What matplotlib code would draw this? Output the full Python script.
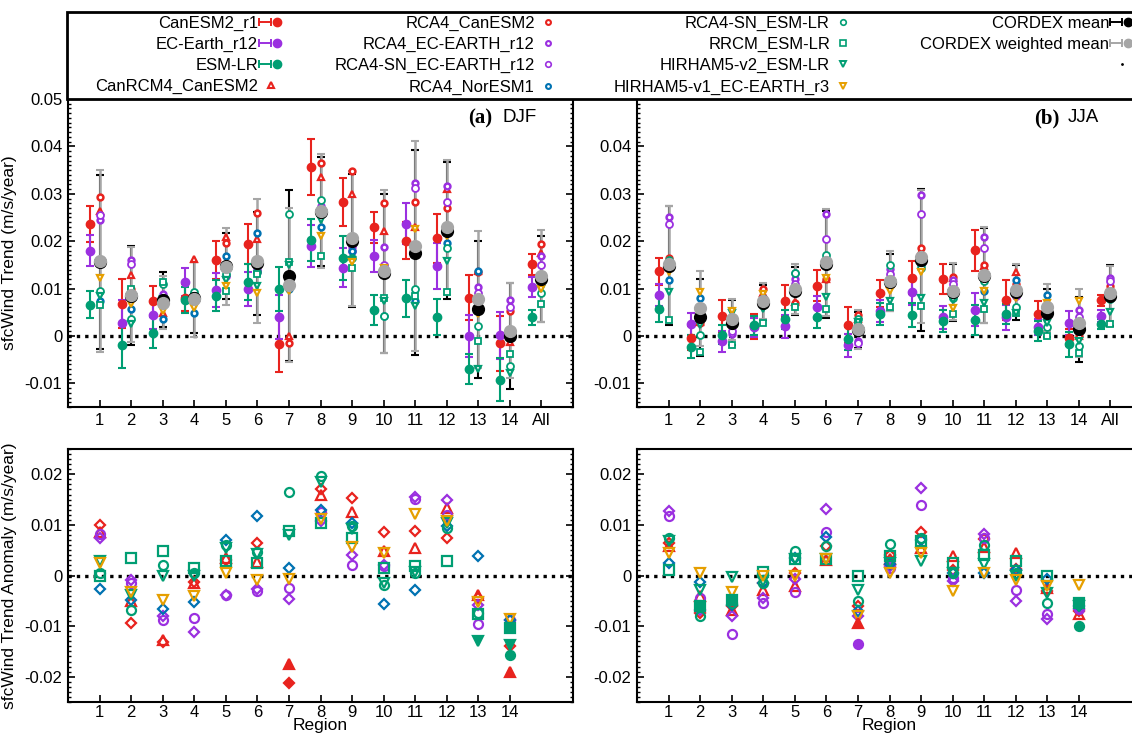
import numpy as np
import matplotlib
matplotlib.use('Agg')
import matplotlib.pyplot as plt
from matplotlib.lines import Line2D
from matplotlib.patches import Rectangle
from matplotlib.legend_handler import HandlerLine2D, HandlerTuple
from matplotlib.ticker import MultipleLocator, FuncFormatter

plt.rcParams['font.family'] = ['Liberation Sans', 'DejaVu Sans']

# ---------------- data ----------------
regions_top = ['1', '2', '3', '4', '5', '6', '7', '8', '9', '10', '11', '12', '13', '14', 'All']
regions_bottom = ['1', '2', '3', '4', '5', '6', '7', '8', '9', '10', '11', '12', '13', '14']

gcm_names = ['CanESM2_r1', 'EC-Earth_r12', 'ESM-LR']
rcm_names = ['CanRCM4_CanESM2', 'RCA4_CanESM2', 'RCA4_EC-EARTH_r12', 'RCA4-SN_EC-EARTH_r12',
             'RCA4_NorESM1', 'RCA4-SN_ESM-LR', 'RRCM_ESM-LR', 'HIRHAM5-v2_ESM-LR',
             'HIRHAM5-v1_EC-EARTH_r3']

# DJF trends (m/s/year)
djf_canesm2 = [0.0237, 0.0068, 0.0073, 0.0081, 0.0160, 0.0194, -0.0018, 0.0357, 0.0283, 0.0229, 0.0201, 0.0206, 0.0081, -0.0015, 0.0151]
djf_canesm2_err = [0.0038, 0.0052, 0.0032, 0.0028, 0.0040, 0.0043, 0.0058, 0.0059, 0.0050, 0.0033, 0.0039, 0.0052, 0.0047, 0.0058, 0.0022]
djf_ecearth = [0.0180, 0.0028, 0.0044, 0.0114, 0.0096, 0.0099, 0.0040, 0.0190, 0.0144, 0.0168, 0.0237, 0.0148, 0.0000, 0.0001, 0.0104]
djf_ecearth_err = [0.0032, 0.0048, 0.0029, 0.0029, 0.0036, 0.0036, 0.0047, 0.0045, 0.0041, 0.0034, 0.0043, 0.0048, 0.0044, 0.0050, 0.0021]
djf_esmlr = [0.0066, -0.0020, 0.0007, 0.0076, 0.0085, 0.0114, 0.0099, 0.0203, 0.0165, 0.0055, 0.0079, 0.0040, -0.0070, -0.0092, 0.0039]
djf_esmlr_err = [0.0028, 0.0048, 0.0032, 0.0027, 0.0033, 0.0038, 0.0046, 0.0044, 0.0046, 0.0032, 0.0040, 0.0037, 0.0032, 0.0046, 0.0016]

djf_canrcm4 = [0.0263, 0.0128, 0.0048, 0.0163, 0.0208, 0.0204, 0.0000, 0.0335, 0.0299, 0.0222, 0.0229, 0.0310, 0.0137, -0.0013, 0.0176]
djf_rca4_canesm2 = [0.0294, 0.0099, 0.0065, 0.0080, 0.0197, 0.0259, -0.0015, 0.0365, 0.0349, 0.0280, 0.0283, 0.0269, 0.0135, 0.0053, 0.0195]
djf_rca4_ecearth = [0.0245, 0.0160, 0.0088, 0.0088, 0.0141, 0.0135, 0.0110, 0.0275, 0.0187, 0.0187, 0.0323, 0.0317, 0.0104, 0.0076, 0.0169]
djf_rca4sn_ecearth = [0.0255, 0.0151, 0.0080, 0.0075, 0.0127, 0.0140, 0.0110, 0.0270, 0.0180, 0.0150, 0.0313, 0.0283, 0.0090, 0.0060, 0.0150]
djf_rca4_noresm = [0.0074, 0.0056, 0.0035, 0.0048, 0.0169, 0.0217, 0.0100, 0.0229, 0.0180, 0.0042, 0.0074, 0.0197, 0.0137, 0.0000, 0.0120]
djf_rca4sn_esmlr = [0.0095, 0.0035, 0.0110, 0.0092, 0.0130, 0.0135, 0.0257, 0.0287, 0.0165, 0.0042, 0.0100, 0.0185, 0.0020, -0.0063, 0.0090]
djf_rrcm = [0.0065, 0.0099, 0.0114, 0.0085, 0.0095, 0.0130, 0.0155, 0.0169, 0.0144, 0.0079, 0.0085, 0.0093, -0.0011, -0.0039, 0.0067]
djf_hirham_v2 = [0.0085, 0.0025, 0.0077, 0.0080, 0.0118, 0.0106, 0.0150, 0.0245, 0.0160, 0.0074, 0.0063, 0.0158, -0.0070, -0.0079, 0.0100]
djf_hirham_v1 = [0.0123, 0.0067, 0.0053, 0.0058, 0.0106, 0.0090, 0.0095, 0.0211, 0.0157, 0.0144, 0.0225, 0.0211, 0.0046, 0.0000, 0.0100]

djf_mean = [0.0156, 0.0085, 0.0076, 0.0081, 0.0148, 0.0153, 0.0127, 0.0262, 0.0201, 0.0132, 0.0176, 0.0222, 0.0056, -0.0001, 0.0120]
djf_mean_err = [0.0183, 0.0105, 0.0058, 0.0075, 0.0070, 0.0108, 0.0180, 0.0115, 0.0140, 0.0167, 0.0216, 0.0144, 0.0145, 0.0112, 0.0091]
djf_wmean = [0.0158, 0.0087, 0.0070, 0.0077, 0.0146, 0.0158, 0.0107, 0.0264, 0.0206, 0.0137, 0.0190, 0.0229, 0.0077, 0.0011, 0.0127]
djf_wmean_err = [0.0192, 0.0100, 0.0056, 0.0080, 0.0081, 0.0130, 0.0162, 0.0120, 0.0142, 0.0172, 0.0221, 0.0143, 0.0145, 0.0100, 0.0097]

# JJA trends (m/s/year)
jja_canesm2 = [0.0136, -0.0004, 0.0042, 0.0020, 0.0073, 0.0106, 0.0023, 0.0090, 0.0123, 0.0120, 0.0181, 0.0076, 0.0046, -0.0004, 0.0075]
jja_canesm2_err = [0.0028, 0.0025, 0.0033, 0.0026, 0.0034, 0.0033, 0.0037, 0.0028, 0.0035, 0.0031, 0.0043, 0.0042, 0.0027, 0.0018, 0.0012]
jja_ecearth = [0.0086, 0.0025, -0.0011, 0.0018, 0.0020, 0.0060, -0.0020, 0.0053, 0.0093, 0.0039, 0.0055, 0.0039, 0.0018, 0.0028, 0.0042]
jja_ecearth_err = [0.0023, 0.0023, 0.0022, 0.0020, 0.0025, 0.0025, 0.0024, 0.0023, 0.0027, 0.0025, 0.0035, 0.0027, 0.0017, 0.0025, 0.0013]
jja_esmlr = [0.0056, -0.0023, 0.0002, 0.0023, 0.0035, 0.0040, -0.0006, 0.0046, 0.0044, 0.0032, 0.0034, 0.0046, 0.0011, -0.0018, 0.0025]
jja_esmlr_err = [0.0026, 0.0024, 0.0020, 0.0020, 0.0020, 0.0023, 0.0024, 0.0023, 0.0026, 0.0023, 0.0031, 0.0021, 0.0021, 0.0027, 0.0011]

jja_canrcm4 = [0.0160, 0.0030, 0.0035, 0.0090, 0.0071, 0.0121, 0.0035, 0.0110, 0.0180, 0.0123, 0.0148, 0.0134, 0.0060, -0.0001, 0.0102]
jja_rca4_canesm2 = [0.0165, 0.0028, 0.0030, 0.0099, 0.0070, 0.0121, 0.0044, 0.0120, 0.0185, 0.0125, 0.0150, 0.0110, 0.0065, 0.0000, 0.0105]
jja_rca4_ecearth = [0.0252, 0.0060, 0.0004, 0.0075, 0.0121, 0.0258, -0.0011, 0.0141, 0.0297, 0.0118, 0.0208, 0.0090, 0.0050, 0.0055, 0.0123]
jja_rca4sn_ecearth = [0.0236, 0.0050, 0.0010, 0.0070, 0.0110, 0.0204, -0.0015, 0.0130, 0.0258, 0.0110, 0.0185, 0.0085, 0.0045, 0.0040, 0.0115]
jja_rca4_noresm = [0.0117, 0.0081, 0.0030, 0.0080, 0.0132, 0.0165, 0.0020, 0.0120, 0.0150, 0.0090, 0.0095, 0.0118, 0.0086, 0.0020, 0.0090]
jja_rca4sn_esmlr = [0.0160, 0.0001, 0.0030, 0.0065, 0.0132, 0.0171, 0.0035, 0.0149, 0.0143, 0.0080, 0.0116, 0.0060, 0.0018, -0.0021, 0.0077]
jja_rrcm = [0.0033, -0.0033, -0.0020, 0.0028, 0.0060, 0.0056, 0.0025, 0.0060, 0.0063, 0.0046, 0.0056, 0.0049, 0.0000, -0.0035, 0.0025]
jja_hirham_v2 = [0.0092, 0.0023, 0.0049, 0.0056, 0.0088, 0.0083, 0.0030, 0.0074, 0.0080, 0.0075, 0.0070, 0.0049, 0.0028, -0.0010, 0.0051]
jja_hirham_v1 = [0.0135, 0.0093, 0.0053, 0.0088, 0.0095, 0.0123, 0.0010, 0.0095, 0.0134, 0.0058, 0.0095, 0.0079, 0.0070, 0.0073, 0.0090]

jja_mean = [0.0148, 0.0039, 0.0028, 0.0070, 0.0095, 0.0151, 0.0013, 0.0113, 0.0161, 0.0092, 0.0127, 0.0092, 0.0048, 0.0014, 0.0085]
jja_mean_err = [0.0126, 0.0082, 0.0047, 0.0037, 0.0050, 0.0113, 0.0038, 0.0060, 0.0150, 0.0060, 0.0100, 0.0058, 0.0050, 0.0068, 0.0065]
jja_wmean = [0.0151, 0.0058, 0.0035, 0.0074, 0.0099, 0.0155, 0.0014, 0.0116, 0.0167, 0.0094, 0.0129, 0.0096, 0.0060, 0.0028, 0.0090]
jja_wmean_err = [0.0124, 0.0080, 0.0043, 0.0038, 0.0052, 0.0112, 0.0041, 0.0064, 0.0140, 0.0060, 0.0101, 0.0055, 0.0050, 0.0072, 0.0058]

# DJF trend anomalies (m/s/year)
djf_anom_canrcm4 = [0.0085, -0.0051, -0.0127, -0.0015, 0.0035, 0.0026, -0.0175, 0.0159, 0.0125, 0.0048, 0.0055, 0.0134, -0.0038, -0.0191]
djf_anom_rca4_canesm2 = [0.0099, -0.0094, -0.0132, -0.0012, 0.0030, 0.0065, -0.0212, 0.0171, 0.0154, 0.0085, 0.0088, 0.0075, -0.0045, -0.0140]
djf_anom_rca4_ecearth = [0.0075, -0.0008, -0.0081, -0.0111, -0.0038, -0.0026, -0.0046, 0.0108, 0.0040, 0.0021, 0.0156, 0.0150, -0.0058, -0.0088]
djf_anom_rca4sn_ecearth = [0.0083, -0.0015, -0.0087, -0.0084, -0.0038, -0.0030, -0.0025, 0.0125, 0.0020, 0.0018, 0.0151, 0.0119, -0.0095, -0.0087]
djf_anom_rca4_noresm = [-0.0026, -0.0048, -0.0066, -0.0053, 0.0070, 0.0118, 0.0015, 0.0130, 0.0103, -0.0056, -0.0029, 0.0098, 0.0038, -0.0087]
djf_anom_rca4sn_esmlr = [0.0004, -0.0068, 0.0021, 0.0005, 0.0060, 0.0046, 0.0166, 0.0197, 0.0098, -0.0018, 0.0004, 0.0093, -0.0075, -0.0157]
djf_anom_rrcm = [-0.0001, 0.0035, 0.0048, 0.0014, 0.0028, 0.0024, 0.0088, 0.0103, 0.0075, 0.0014, 0.0019, 0.0028, -0.0077, -0.0103]
djf_anom_hirham_v2 = [0.0028, -0.0038, 0.0000, -0.0001, 0.0055, 0.0042, 0.0081, 0.0185, 0.0091, -0.0015, 0.0007, 0.0103, -0.0130, -0.0138]
djf_anom_hirham_v1 = [0.0025, -0.0033, -0.0048, -0.0041, 0.0005, -0.0009, -0.0007, 0.0111, 0.0057, 0.0045, 0.0121, 0.0108, -0.0053, -0.0086]

# JJA trend anomalies (m/s/year)
jja_anom_canrcm4 = [0.0058, -0.0040, -0.0068, -0.0028, -0.0021, 0.0030, -0.0093, 0.0033, 0.0055, 0.0038, 0.0057, 0.0044, -0.0025, -0.0076]
jja_anom_rca4_canesm2 = [0.0064, -0.0074, -0.0060, -0.0015, 0.0004, 0.0058, -0.0060, 0.0040, 0.0085, 0.0010, 0.0072, 0.0012, -0.0030, -0.0070]
jja_anom_rca4_ecearth = [0.0128, -0.0068, -0.0081, -0.0044, -0.0007, 0.0132, -0.0080, 0.0019, 0.0172, -0.0011, 0.0083, -0.0051, -0.0085, -0.0066]
jja_anom_rca4sn_ecearth = [0.0117, -0.0045, -0.0116, -0.0054, -0.0032, 0.0085, -0.0135, 0.0015, 0.0140, -0.0005, 0.0075, -0.0029, -0.0077, -0.0066]
jja_anom_rca4_noresm = [0.0024, -0.0013, -0.0058, -0.0015, 0.0035, 0.0077, -0.0070, 0.0022, 0.0070, 0.0005, 0.0004, 0.0010, -0.0007, -0.0060]
jja_anom_rca4sn_esmlr = [0.0075, -0.0081, -0.0055, -0.0015, 0.0048, 0.0058, -0.0050, 0.0062, 0.0075, 0.0005, 0.0060, 0.0004, -0.0055, -0.0099]
jja_anom_rrcm = [0.0010, -0.0060, -0.0048, 0.0007, 0.0032, 0.0033, 0.0000, 0.0038, 0.0068, 0.0024, 0.0040, 0.0028, -0.0001, -0.0054]
jja_anom_hirham_v2 = [0.0068, -0.0029, -0.0003, -0.0010, 0.0032, 0.0033, -0.0028, 0.0025, 0.0028, 0.0005, 0.0022, 0.0000, -0.0034, -0.0060]
jja_anom_hirham_v1 = [0.0044, 0.0004, -0.0032, -0.0001, -0.0001, 0.0033, -0.0081, 0.0004, 0.0045, -0.0031, 0.0004, -0.0009, -0.0020, -0.0019]

# regions (1-based) where the anomaly marker is drawn filled
djf_filled = [('CanRCM4_CanESM2', 7), ('CanRCM4_CanESM2', 14), ('RCA4_CanESM2', 7),
              ('HIRHAM5-v2_ESM-LR', 13), ('HIRHAM5-v2_ESM-LR', 14), ('RRCM_ESM-LR', 14),
              ('RCA4-SN_ESM-LR', 14)]
jja_filled = [('RRCM_ESM-LR', 2), ('RRCM_ESM-LR', 3), ('RRCM_ESM-LR', 14), ('RCA4-SN_ESM-LR', 14),
              ('CanRCM4_CanESM2', 7), ('RCA4-SN_EC-EARTH_r12', 7)]

# ---------------- styles ----------------
RED = '#e8231e'
PURPLE = '#9b30e0'
GREEN = '#009e73'
BLUE = '#0072b2'
ORANGE = '#e69f00'
GRAY = '#a6a6a6'

gcm_colors = [RED, PURPLE, GREEN]
rcm_colors = [RED, RED, PURPLE, PURPLE, BLUE, GREEN, GREEN, GREEN, ORANGE]
# top-panel marker style (marker, size, edge width)
rcm_top_style = [('^', 5.0, 1.6), ('o', 4.2, 1.8), ('o', 4.2, 1.8), ('o', 5.0, 1.3), ('o', 4.2, 1.8),
                 ('o', 5.0, 1.3), ('s', 4.6, 1.3), ('v', 5.0, 1.6), ('v', 5.0, 1.6)]
rcm_bot_style = [('^', 7.5, 1.6), ('D', 5.5, 1.6), ('D', 5.5, 1.6), ('o', 6.5, 1.6), ('D', 5.5, 1.6),
                 ('o', 6.5, 1.6), ('s', 6.5, 1.6), ('v', 7.5, 1.6), ('v', 7.5, 1.6)]

W, H = 1132, 737
fig = plt.figure(figsize=(W / 100, H / 100), dpi=100)


def px_axes(left, top, right, bottom):
    return fig.add_axes([left / W, 1 - bottom / H, (right - left) / W, (bottom - top) / H])


ax_tl = px_axes(68, 99, 573, 407)
ax_tr = px_axes(637, 99, 1142, 407)
ax_bl = px_axes(68, 449, 573, 702)
ax_br = px_axes(637, 449, 1142, 702)

fmt = FuncFormatter(lambda v, p: '0' if abs(v) < 1e-9 else f'{v:.2f}')


def style_axes(ax, ylim, nx, labels, xpad=4):
    ax.set_xlim(0, 16)
    ax.set_ylim(*ylim)
    ax.set_xticks(np.arange(1, nx + 1))
    ax.set_xticklabels(labels)
    ax.yaxis.set_major_locator(MultipleLocator(0.01))
    ax.yaxis.set_minor_locator(MultipleLocator(0.001))
    ax.yaxis.set_major_formatter(fmt)
    ax.tick_params(axis='both', which='major', direction='in', length=5, width=1.2,
                   labelsize=12, right=True, top=False, pad=4)
    ax.tick_params(axis='x', which='major', pad=xpad)
    ax.tick_params(axis='y', which='minor', direction='in', length=2.5, width=1.0, right=True)
    for s in ax.spines.values():
        s.set_linewidth(1.5)
    ax.axhline(0, color='black', ls=(0, (1, 1.5)), lw=2.4, zorder=1)


def draw_top(ax, gcms, gcm_errs, rcms, mean, mean_err, wmean, wmean_err):
    x = np.arange(1, len(regions_top) + 1)
    for vals, errs, c in zip(gcms, gcm_errs, gcm_colors):
        ax.errorbar(x - 0.3, vals, yerr=errs, fmt='o', color=c, ms=6, capsize=3,
                    elinewidth=1.5, capthick=1.5, zorder=3)
    ax.errorbar(x, mean, yerr=mean_err, fmt='none', ecolor='black', capsize=3,
                elinewidth=1.5, capthick=1.5, zorder=2)
    ax.errorbar(x, wmean, yerr=wmean_err, fmt='none', ecolor=GRAY, capsize=3,
                elinewidth=1.8, capthick=1.5, zorder=2.5)
    for vals, c, (m, ms, mew) in zip(rcms, rcm_colors, rcm_top_style):
        ax.plot(x, vals, ls='none', marker=m, ms=ms, mew=mew, mec=c, mfc='white', zorder=4)
    ax.plot(x, mean, ls='none', marker='o', ms=8.5, color='black', zorder=5)
    ax.plot(x, wmean, ls='none', marker='o', ms=8.5, color=GRAY, zorder=5.5)


def draw_bottom(ax, anoms, filled):
    x = np.arange(1, len(regions_bottom) + 1)
    for name, vals, c, (m, ms, mew) in zip(rcm_names, anoms, rcm_colors, rcm_bot_style):
        vals = np.array(vals)
        fill_idx = [r - 1 for (n, r) in filled if n == name]
        open_mask = np.ones(len(vals), bool)
        open_mask[fill_idx] = False
        ax.plot(x[open_mask], vals[open_mask], ls='none', marker=m, ms=ms, mew=mew,
                mec=c, mfc='none', zorder=3)
        if fill_idx:
            ax.plot(x[fill_idx], vals[fill_idx], ls='none', marker=m, ms=ms, mew=mew,
                    mec=c, mfc=c, zorder=3.5)


style_axes(ax_tl, (-0.015, 0.05), 15, regions_top)
style_axes(ax_tr, (-0.015, 0.05), 15, regions_top)
style_axes(ax_bl, (-0.025, 0.025), 14, regions_bottom, xpad=2)
style_axes(ax_br, (-0.025, 0.025), 14, regions_bottom, xpad=2)
# the right panel's top y label sits under the legend box in the reference
ax_tr.yaxis.set_major_formatter(FuncFormatter(
    lambda v, p: '' if v > 0.045 else ('0' if abs(v) < 1e-9 else f'{v:.2f}')))

draw_top(ax_tl, [djf_canesm2, djf_ecearth, djf_esmlr],
         [djf_canesm2_err, djf_ecearth_err, djf_esmlr_err],
         [djf_canrcm4, djf_rca4_canesm2, djf_rca4_ecearth, djf_rca4sn_ecearth, djf_rca4_noresm,
          djf_rca4sn_esmlr, djf_rrcm, djf_hirham_v2, djf_hirham_v1],
         djf_mean, djf_mean_err, djf_wmean, djf_wmean_err)
draw_top(ax_tr, [jja_canesm2, jja_ecearth, jja_esmlr],
         [jja_canesm2_err, jja_ecearth_err, jja_esmlr_err],
         [jja_canrcm4, jja_rca4_canesm2, jja_rca4_ecearth, jja_rca4sn_ecearth, jja_rca4_noresm,
          jja_rca4sn_esmlr, jja_rrcm, jja_hirham_v2, jja_hirham_v1],
         jja_mean, jja_mean_err, jja_wmean, jja_wmean_err)
draw_bottom(ax_bl, [djf_anom_canrcm4, djf_anom_rca4_canesm2, djf_anom_rca4_ecearth,
                    djf_anom_rca4sn_ecearth, djf_anom_rca4_noresm, djf_anom_rca4sn_esmlr,
                    djf_anom_rrcm, djf_anom_hirham_v2, djf_anom_hirham_v1], djf_filled)
draw_bottom(ax_br, [jja_anom_canrcm4, jja_anom_rca4_canesm2, jja_anom_rca4_ecearth,
                    jja_anom_rca4sn_ecearth, jja_anom_rca4_noresm, jja_anom_rca4sn_esmlr,
                    jja_anom_rrcm, jja_anom_hirham_v2, jja_anom_hirham_v1], jja_filled)

ax_tl.set_ylabel('sfcWind Trend (m/s/year)', fontsize=12.5)
ax_tl.yaxis.set_label_coords(-0.10, 0.5)
ax_bl.set_ylabel('sfcWind Trend Anomaly (m/s/year)', fontsize=12.5)
ax_bl.yaxis.set_label_coords(-0.10, 0.5)
for ax in (ax_bl, ax_br):
    ax.set_xlabel('Region', fontsize=12.5, va='top')
    ax.xaxis.set_label_coords(0.5, -0.062)

# panel titles
for xa, xb, bold, txt in [(468, 502, '(a)', 'DJF'), (1034, 1068, '(b)', 'JJA')]:
    fig.text(xa / W, 1 - 118 / H, bold, fontfamily=['Liberation Serif', 'DejaVu Serif'],
             fontweight='bold', fontsize=15, va='center', ha='left')
    fig.text(xb / W, 1 - 118 / H, txt, fontsize=13.5, va='center', ha='left')

# ---------------- legend ----------------
box = Rectangle((67 / W, 1 - 99 / H), (1140 - 67) / W, (99 - 12) / H, transform=fig.transFigure,
                facecolor='white', edgecolor='black', linewidth=2.0, zorder=10)
fig.add_artist(box)

handler_map = {tuple: HandlerTuple(ndivide=None, pad=0)}


def eb_handle(c, ms=6):
    cap = Line2D([], [], color=c, lw=1.4, marker='|', ms=6, mew=1.4)
    dot = Line2D([], [], color=c, marker='o', ls='none', ms=ms)
    handler_map[cap] = HandlerLine2D(numpoints=2, marker_pad=0)
    return (cap, dot)


def mk_handle(c, m, ms, mew):
    return Line2D([], [], ls='none', marker=m, ms=ms, mew=mew, mec=c, mfc='white')


col1 = [eb_handle(RED), eb_handle(PURPLE), eb_handle(GREEN), mk_handle(RED, '^', 4.5, 1.5)]
col1_lab = ['CanESM2_r1', 'EC-Earth_r12', 'ESM-LR', 'CanRCM4_CanESM2']
col2 = [mk_handle(RED, 'o', 3.5, 1.5), mk_handle(PURPLE, 'o', 3.5, 1.5),
        mk_handle(PURPLE, 'o', 4.0, 1.2), mk_handle(BLUE, 'o', 3.5, 1.5)]
col2_lab = rcm_names[1:5]
col3 = [mk_handle(GREEN, 'o', 4.0, 1.2), mk_handle(GREEN, 's', 4.0, 1.2),
        mk_handle(GREEN, 'v', 4.5, 1.4), mk_handle(ORANGE, 'v', 4.5, 1.4)]
col3_lab = rcm_names[5:9]
col4 = [eb_handle('black'), eb_handle(GRAY), Line2D([], [], ls='none', marker='.', ms=2, color='black')]
col4_lab = ['CORDEX mean', 'CORDEX weighted mean', ' ']

for handles, labels, xr in [(col1, col1_lab, 283), (col2, col2_lab, 560),
                            (col3, col3_lab, 855), (col4, col4_lab, 1134)]:
    leg = fig.legend(handles, labels, loc='upper right', bbox_to_anchor=(xr / W, 1 - 16 / H),
                     frameon=False, markerfirst=False, fontsize=12, handlelength=1.45,
                     handletextpad=0.05, labelspacing=0.36, borderpad=0, borderaxespad=0,
                     handler_map=handler_map)
    leg.set_zorder(11)

fig.savefig('out.png', dpi=100)
